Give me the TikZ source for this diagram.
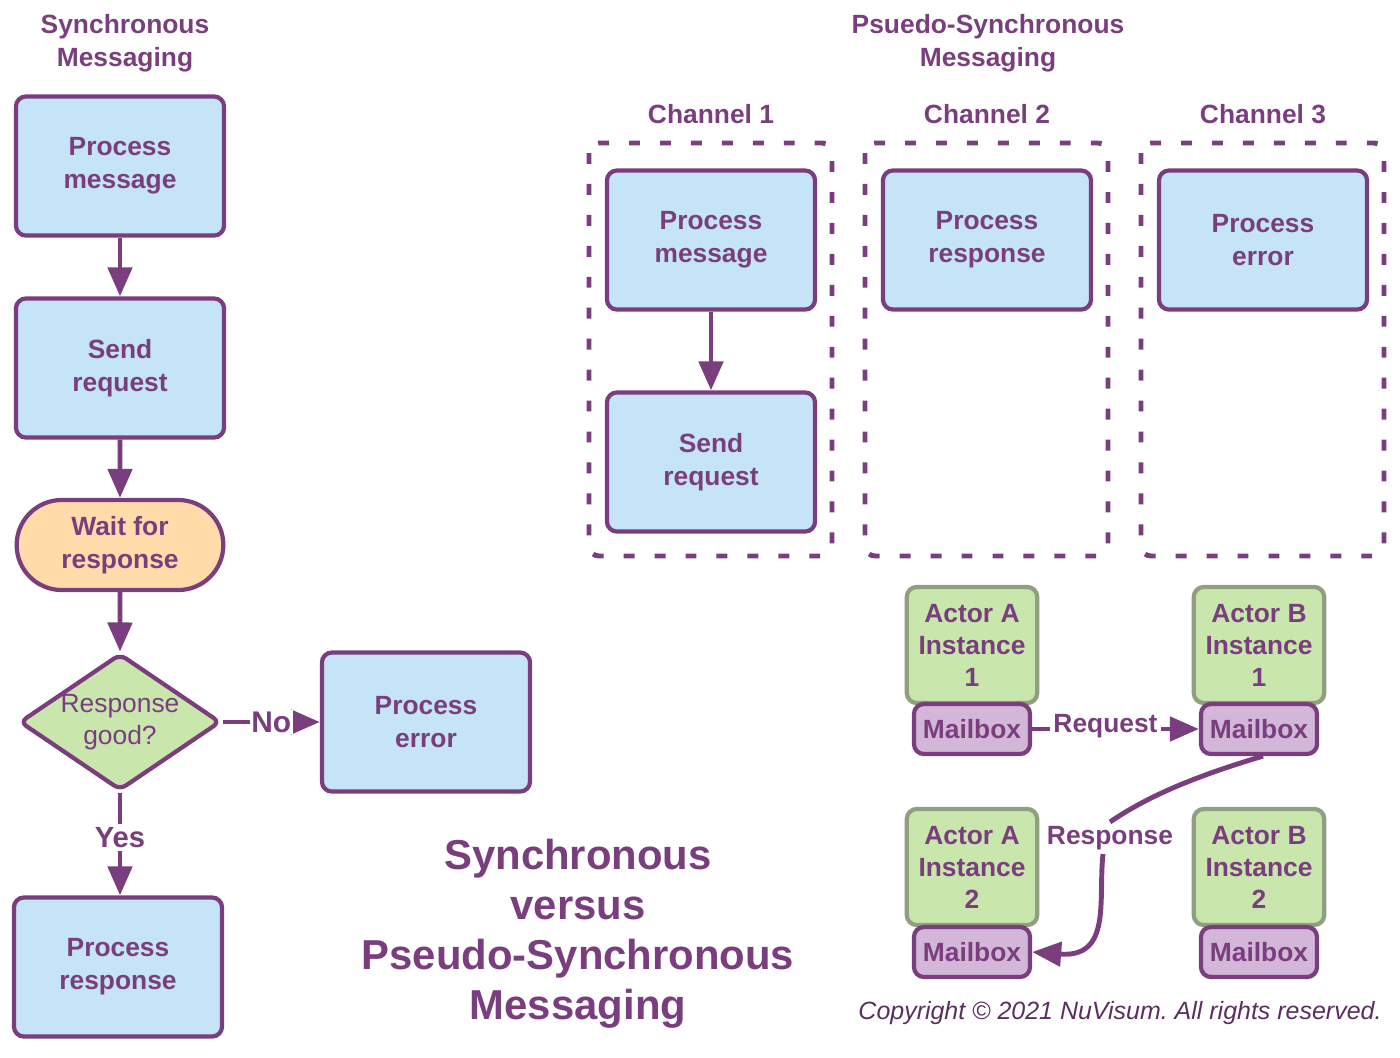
\documentclass[tikz,border=0pt]{standalone}
\usepackage{fontspec}
\setmainfont{Liberation Sans}
\usetikzlibrary{arrows.meta, shapes.geometric, shapes.misc}

\definecolor{nvpurple}{HTML}{7A3E7F}
\definecolor{nvdark}{HTML}{5C2D60}
\definecolor{boxblue}{HTML}{C5E4F7}
\definecolor{waitorange}{HTML}{FFDCAA}
\definecolor{actorgreen}{HTML}{C9E6AC}
\definecolor{actorline}{HTML}{8F9F80}
\definecolor{mailpurple}{HTML}{D2B7D8}
\frenchspacing

\begin{document}
\begin{tikzpicture}[x=0.01cm, y=-0.01cm,
	txt/.style = {text=nvpurple, align=center, font=\bfseries\fontsize{7.5}{9.4}\selectfont},
	procbox/.style = {txt, draw=nvpurple, line width=1.2pt, fill=boxblue, rounded corners=0.1cm,
		minimum width=2.08cm, minimum height=1.39cm},
	waitbox/.style = {txt, rounded rectangle, draw=nvpurple, line width=1.2pt, fill=waitorange,
		minimum width=2.3cm, minimum height=0.9cm},
	askbox/.style = {txt, diamond, draw=nvpurple, line width=1.2pt, fill=actorgreen, rounded corners=2pt,
		inner sep=0pt, aspect=1.47, minimum width=1.98cm, minimum height=1.35cm, font=\fontsize{7.5}{9.2}\selectfont},
	actorbox/.style = {txt, draw=actorline, line width=1.2pt, fill=actorgreen, rounded corners=0.1cm,
		minimum width=1.26cm, minimum height=1.16cm, font=\bfseries\fontsize{7.5}{9.1}\selectfont},
	mailbox/.style = {txt, draw=nvpurple, line width=1.2pt, fill=mailpurple, rounded corners=0.1cm,
		minimum width=1.16cm, minimum height=0.5cm, inner sep=0pt},
	chanbox/.style = {draw=nvpurple, line width=1.4pt, rounded corners=0.1cm, dash pattern=on 3.1pt off 5.7pt},
	flow/.style = {draw=nvpurple, line width=1.4pt, -{Triangle[width=0.24cm, length=0.29cm]}},
	flowlabel/.style = {txt, fill=white, inner sep=1pt},
	]
	\useasboundingbox (0, 0) rectangle (1400, 1057);

	% synchronous side
	\node[txt] (synctitle) at (125, 43) {Synchronous\\Messaging};
	\node[procbox] (syncmsg) at (120, 166) {Process\\message};
	\node[procbox] (syncreq) at (120, 368) {Send\\request};
	\node[waitbox] (syncwait) at (120, 545) {Wait for\\response};
	\node[askbox] (syncgood) at (120, 722) {Response\\good?};
	\node[procbox] (syncerr) at (426, 722) {Process\\error};
	\node[procbox] (syncresp) at (118, 967) {Process\\response};

	\draw[flow] (syncmsg) -- (syncreq);
	\draw[flow] (syncreq) -- (syncwait);
	\draw[flow] (syncwait) -- (syncgood);
	\draw[flow] (syncgood) -- node[flowlabel, pos=0.5, inner sep=0.5pt, font=\bfseries\fontsize{8.5}{10}\selectfont]{No} (syncerr);
	\draw[flow] (syncgood.south) -- node[flowlabel, pos=0.44, font=\bfseries\fontsize{8.3}{10}\selectfont]{Yes} (syncresp.north -| syncgood.south);

	% pseudo-synchronous side
	\node[txt] (psynctitle) at (988, 43) {Psuedo-Synchronous\\Messaging};
	\foreach \cx/\cn in {711/1, 987/2, 1263/3} {
		\node[txt] (chan\cn) at (\cx, 114) {Channel \cn};
		\draw[chanbox] ({\cx - 122}, 143) rectangle ({\cx + 121}, 556);
	}
	\node[procbox] (chanmsg) at (711, 240) {Process\\message};
	\node[procbox] (chanreq) at (711, 462) {Send\\request};
	\node[procbox] (chanresp) at (987, 240) {Process\\response};
	\node[procbox] (chanerr) at (1263, 240) {Process\\error};
	\draw[flow] (chanmsg) -- (chanreq);

	% actors and mailboxes
	\node[actorbox] (actorA1) at (972, 645) {Actor A\\Instance\\1};
	\node[mailbox] (mailA1) at (972, 729) {Mailbox};
	\node[actorbox] (actorB1) at (1259, 645) {Actor B\\Instance\\1};
	\node[mailbox] (mailB1) at (1259, 729) {Mailbox};
	\node[actorbox] (actorA2) at (972, 867) {Actor A\\Instance\\2};
	\node[mailbox] (mailA2) at (972, 952) {Mailbox};
	\node[actorbox] (actorB2) at (1259, 867) {Actor B\\Instance\\2};
	\node[mailbox] (mailB2) at (1259, 952) {Mailbox};

	\draw[flow] (mailA1) -- node[flowlabel, pos=0.44, yshift=0.03cm]{Request} (mailB1);
	\node[txt, inner sep=1pt] (resplabel) at (1110, 838) {Response};
	\draw[draw=nvpurple, line width=1.4pt] ([xshift=0.04cm]mailB1.south) .. controls (1175, 782) and (1135, 805) .. (resplabel.north);
	\draw[flow] ([xshift=-0.07cm]resplabel.south) .. controls (1098, 900) and (1112, 958) .. (mailA2.east);

	% big title and footer
	\node[text=nvpurple, align=center, font=\bfseries\fontsize{11.9}{14.2}\selectfont] (maintitle) at (578, 934)
		{Synchronous\\versus\\Pseudo-Synchronous\\Messaging};
	\node[text=nvdark, font=\itshape\fontsize{7.1}{8.5}\selectfont] (copyline) at (1120, 1013)
		{Copyright © 2021 NuVisum. All rights reserved.};
\end{tikzpicture}
\end{document}
